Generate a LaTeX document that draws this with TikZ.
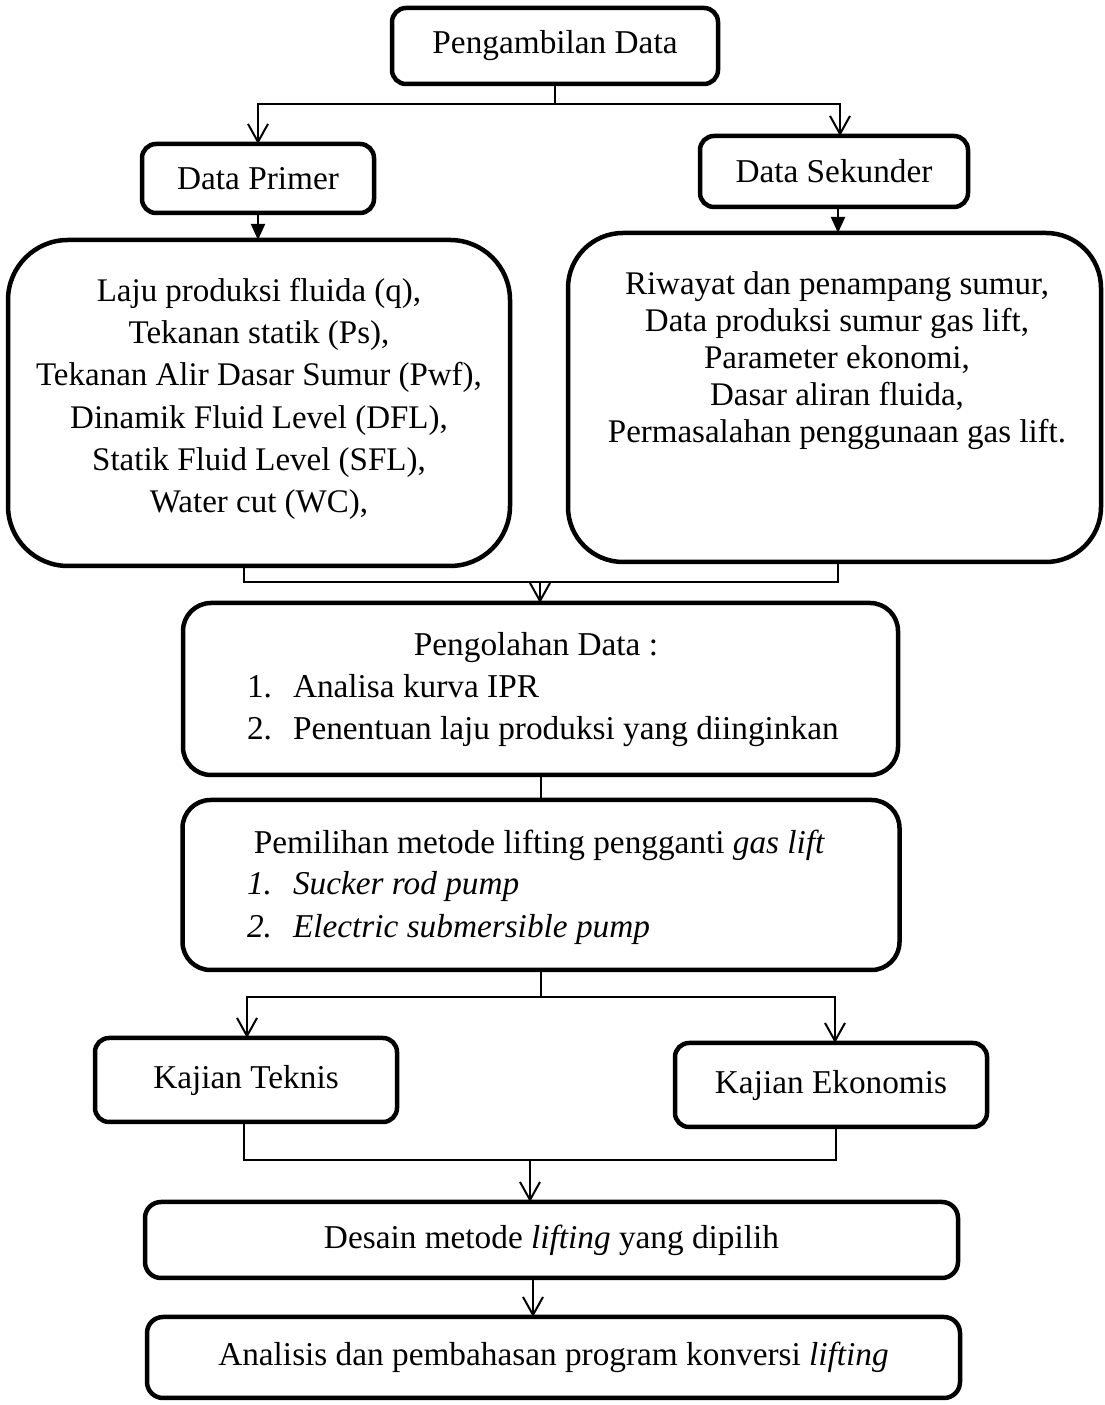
\documentclass[tikz,border=0pt]{standalone}
\usepackage{fontspec}
\setmainfont{Liberation Serif}
\usetikzlibrary{arrows.meta,calc}
\begin{document}
\begin{tikzpicture}[x=1pt,y=1pt,
  box/.style={draw,line width=4.5pt,rounded corners=#1,inner sep=0pt,outer sep=0pt,font=\fontsize{33.3}{40}\selectfont},
  box/.default=14pt,
  txt/.style={inner sep=0pt,outer sep=0pt,font=\fontsize{33.3}{40}\selectfont},
  conn/.style={line width=2pt},
  openarr/.style={conn,-{Straight Barb[length=18pt,width=20pt,line width=2pt]}},
  fillarr/.style={conn,-{Triangle[length=16pt,width=14pt]}}]
\useasboundingbox (0,0) rectangle (1104,1405);

% boxes
\node[box, minimum width=326pt, minimum height=76pt] (top) at (555,1359) {Pengambilan Data};
\node[box, minimum width=232pt, minimum height=69pt] (prim) at (258,1226.5) {Data Primer};
\node[box, minimum width=268pt, minimum height=71pt] (sek) at (834,1233.5) {Data Sekunder};
\node[box=60pt, minimum width=502pt, minimum height=326pt] (L) at (259,1002) {};
\node[box=55pt, minimum width=533pt, minimum height=329pt] (R) at (834.5,1007.5) {};
\node[box=28pt, minimum width=715pt, minimum height=172pt] (olah) at (540.5,716) {};
\node[box=28pt, minimum width=717pt, minimum height=170pt] (pilih) at (541,520) {};
\node[box, minimum width=302pt, minimum height=84pt] (tek) at (246,325) {\raisebox{4pt}{Kajian Teknis}};
\node[box, minimum width=312pt, minimum height=84pt] (eko) at (831,320) {\raisebox{3pt}{Kajian Ekonomis}};
\node[box=16pt, minimum width=813pt, minimum height=76pt] (des) at (551.5,165) {Desain metode \textit{lifting} yang dipilih};
\node[box=16pt, minimum width=813pt, minimum height=81pt] (ana) at (553.5,47.5) {Analisis dan pembahasan program konversi \textit{lifting}};

% texts in large boxes
\node[txt, align=center, font=\fontsize{33}{42.3}\selectfont] (Ltxt) at (259,1006)
 {Laju produksi fluida (q),\\Tekanan statik (Ps),\\Tekanan Alir Dasar Sumur (Pwf),\\Dinamik Fluid Level (DFL),\\Statik Fluid Level (SFL),\\Water cut (WC),};
\node[txt, align=center, font=\fontsize{33}{37}\selectfont] (Rtxt) at (837,1044)
 {Riwayat dan penampang sumur,\\Data produksi sumur gas lift,\\Parameter ekonomi,\\Dasar aliran fluida,\\Permasalahan penggunaan gas lift.};

\node[txt] (olahT) at (536,757) {Pengolahan Data :};
\node[txt, anchor=base west] (olahN1) at (247,707) {1.};
\node[txt, anchor=base west] (olahI1) at (293,707) {Analisa kurva IPR};
\node[txt, anchor=base west] (olahN2) at (247,665) {2.};
\node[txt, anchor=base west] (olahI2) at (293,665) {Penentuan laju produksi yang diinginkan};

\node[txt] (pilihT) at (539.5,560) {Pemilihan metode lifting pengganti \textit{gas lift}};
\node[txt, anchor=base west] (pilihN1) at (247,510) {\textit{1.}};
\node[txt, anchor=base west] (pilihI1) at (293,510) {\textit{Sucker rod pump}};
\node[txt, anchor=base west] (pilihN2) at (247,467) {\textit{2.}};
\node[txt, anchor=base west] (pilihI2) at (293,467) {\textit{Electric submersible pump}};

% connectors
\coordinate (j1) at (555,1301);
\draw[conn] (top.south) -- (j1);
\draw[openarr] (j1) -| (prim.north);
\draw[openarr] (j1) -| ([xshift=6pt]sek.north);
\draw[fillarr] (prim.south) -- (prim.south |- L.north);
\draw[fillarr] ([xshift=4pt]sek.south) -- ([xshift=4pt]sek.south |- R.north);

\coordinate (j2) at (540,823);
\draw[conn] ([xshift=-15pt]L.south) |- (j2) -| ([xshift=3.5pt]R.south);
\draw[openarr] (j2) -- (j2 |- olah.north);

\draw[conn] (olah.south) -- (olah.south |- pilih.north);

\path (pilih.south) ++(0,-27) coordinate (j3);
\draw[conn] (pilih.south) -- (j3);
\draw[openarr] (j3) -| ([xshift=1pt]tek.north);
\draw[openarr] (j3) -| ([xshift=4pt]eko.north);

\coordinate (j4) at (530,245);
\draw[conn] ([xshift=-2pt]tek.south) |- (j4) -| ([xshift=5pt]eko.south);
\draw[openarr] (j4) -- (j4 |- des.north);

\draw[openarr] ([xshift=-18.5pt]des.south) -- ([xshift=-18.5pt]des.south |- ana.north);
\end{tikzpicture}
\end{document}
